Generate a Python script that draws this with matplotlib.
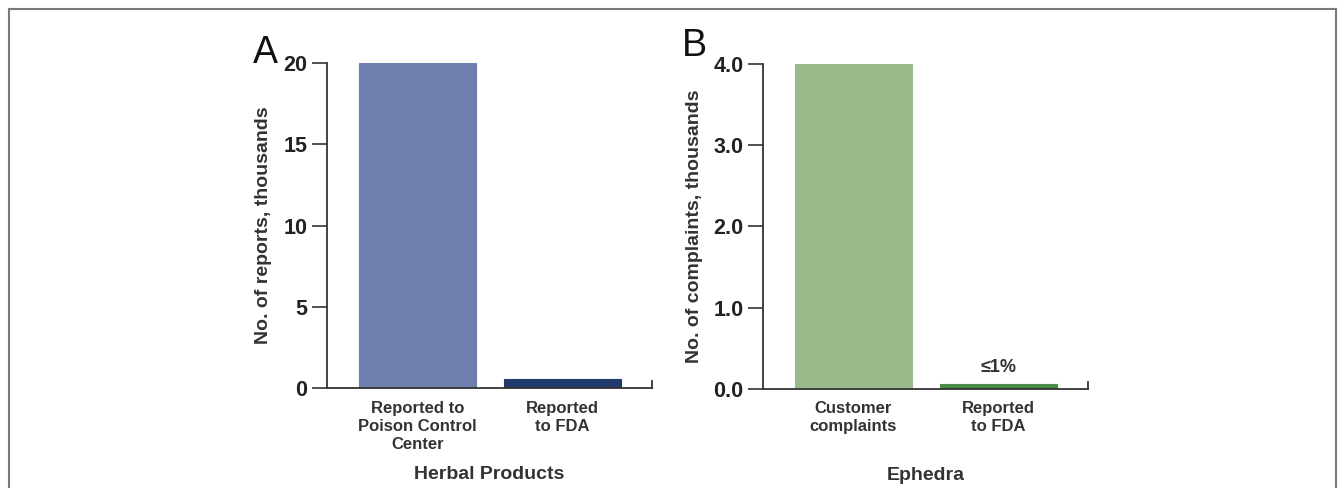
import matplotlib.pyplot as plt
from matplotlib.lines import Line2D

plt.rcParams["font.family"] = ["Liberation Sans", "DejaVu Sans"]

# panel A: herbal products
herbal_cats = ["Reported to\nPoison Control\nCenter", "Reported\nto FDA"]
herbal_vals = [20.0, 0.55]
herbal_colors = ["#6e7fad", "#213a6e"]

# panel B: ephedra
ephedra_cats = ["Customer\ncomplaints", "Reported\nto FDA"]
ephedra_vals = [4.0, 0.06]
ephedra_colors = ["#9ab98a", "#4b8b47"]

fig = plt.figure(figsize=(13.41, 4.88), dpi=100)

# frame around the figure (left, top, right only)
for xs, ys in [([0.0067, 0.0067], [0, 0.982]),
               ([0.0067, 0.9963], [0.982, 0.982]),
               ([0.9963, 0.9963], [0, 0.982])]:
    fig.add_artist(Line2D(xs, ys, color="#7a7a7a", lw=1.5, transform=fig.transFigure))

axA = fig.add_axes([0.2438, 0.2049, 0.2424, 0.666])
axB = fig.add_axes([0.569, 0.2029, 0.2424, 0.666])


def style(ax, cats, vals, colors, ticks, fmt, ylabel, xlabel, letter, lab_x, let_x, let_y):
    x = range(len(cats))
    ax.bar(x, vals, width=0.807, color=colors, edgecolor=colors,
           linewidth=0.8, zorder=2)
    ax.set_xlim(-0.624, 1.617)
    ax.set_ylim(0, ticks[-1])
    ax.set_yticks(ticks)
    ax.set_yticklabels([fmt.format(t) for t in ticks], fontsize=15.5, fontweight="bold",
                       color="#222222")
    ax.set_xticks(list(x))
    ax.set_xticklabels(cats, fontsize=12, fontweight="bold", color="#333333",
                       linespacing=1.25, va="top")
    ax.tick_params(axis="x", length=0, pad=9)
    ax.tick_params(axis="y", length=11, width=1.2, color="#333333", pad=3)
    for s in ["top", "right"]:
        ax.spines[s].set_visible(False)
    for s in ["left", "bottom"]:
        ax.spines[s].set_color("#333333")
        ax.spines[s].set_linewidth(1.3)
    # small upward tick at the end of the x axis
    ax.plot([1.617, 1.617], [0, ticks[-1] * 0.022], color="#333333", lw=1.3,
            clip_on=False, zorder=3)
    ax.set_ylabel(ylabel, fontsize=14, fontweight="bold", color="#333333")
    ax.yaxis.set_label_coords(lab_x, 0.5)
    ax.text(0.5, -0.265, xlabel, transform=ax.transAxes, ha="center", va="center",
            fontsize=14, fontweight="bold", color="#333333")
    ax.text(let_x, let_y, letter, transform=ax.transAxes, ha="center", va="center",
            fontsize=27, color="#111111")


style(axA, herbal_cats, herbal_vals, herbal_colors, [0, 5, 10, 15, 20], "{:.0f}",
      "No. of reports, thousands", "Herbal Products", "A", -0.17, -0.19, 1.03)
style(axB, ephedra_cats, ephedra_vals, ephedra_colors, [0.0, 1.0, 2.0, 3.0, 4.0], "{:.1f}",
      "No. of complaints, thousands", "Ephedra", "B", -0.185, -0.21, 1.055)

axB.text(1, ephedra_vals[1] + 0.1, "≤1%", ha="center", va="bottom", fontsize=13,
         fontweight="bold", color="#333333")

fig.savefig("out.png", dpi=100)
